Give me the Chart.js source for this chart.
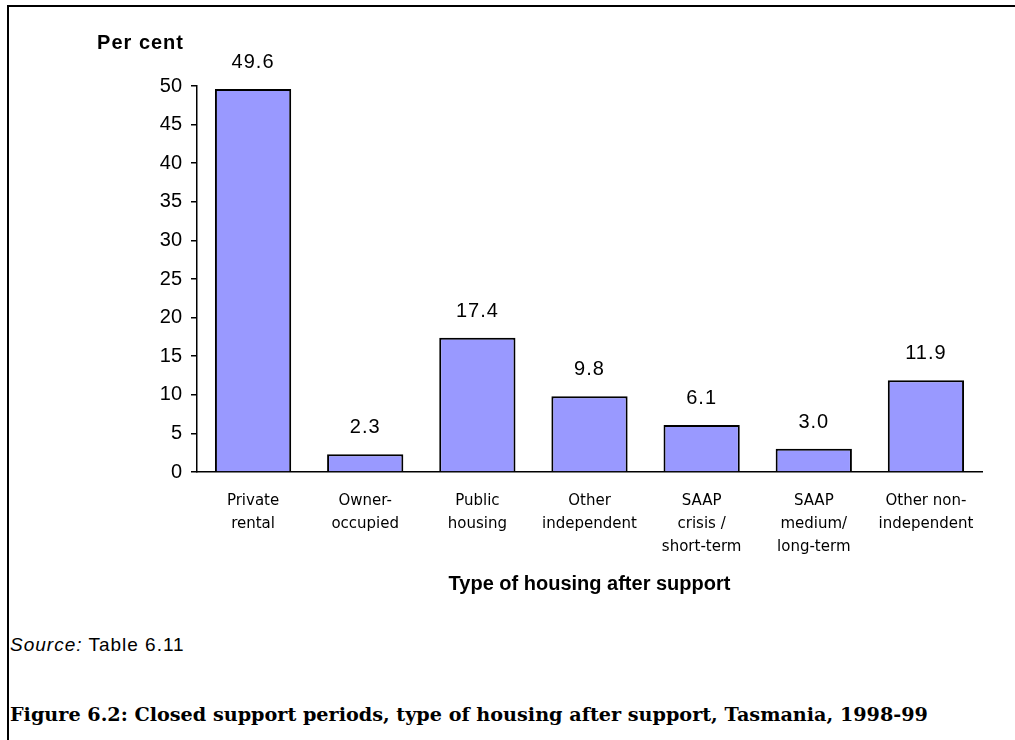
<!DOCTYPE html>
<html>
<head>
<meta charset="utf-8">
<script src="https://cdn.jsdelivr.net/npm/chart.js@4"></script>
<style>
  body { margin: 0; background: #fff; width: 1015px; height: 740px; overflow: hidden; position: relative; }
  #frame { position: absolute; left: 7px; top: 5px; right: -10px; bottom: -10px; border-left: 2px solid #000; border-top: 2px solid #000; }
  #wrap { position: absolute; left: 0; top: 0; width: 1015px; height: 610px; }
  #source { position: absolute; left: 10px; top: 634px; font: 19px "Liberation Sans", Arial, sans-serif; letter-spacing: 1px; color: #000; }
  #caption { position: absolute; left: 10px; top: 703px; font: bold 19.2px "DejaVu Serif", "Liberation Serif", serif; color: #000; white-space: nowrap; }
</style>
</head>
<body>
<div id="frame"></div>
<div id="wrap"><canvas id="housingChart"></canvas></div>
<div id="source"><i>Source:</i> Table 6.11</div>
<div id="caption">Figure 6.2: Closed support periods, type of housing after support, Tasmania, 1998-99</div>
<script>
const categories = [
  ['Private', 'rental'],
  ['Owner-', 'occupied'],
  ['Public', 'housing'],
  ['Other', 'independent'],
  ['SAAP', 'crisis /', 'short-term'],
  ['SAAP', 'medium/', 'long-term'],
  ['Other non-', 'independent']
];
const percents = [49.6, 2.3, 17.4, 9.8, 6.1, 3.0, 11.9];
const yMin = 0, yMax = 50, yStep = 5;
const yAxisTitle = 'Per cent';
const xAxisTitle = 'Type of housing after support';

// value labels above each bar
const barValues = {
  id: 'barValues',
  afterDatasetsDraw(chart) {
    const ctx = chart.ctx;
    const meta = chart.getDatasetMeta(0);
    ctx.save();
    ctx.font = '20px "Liberation Sans", Arial, sans-serif';
    ctx.letterSpacing = '1px';
    ctx.fillStyle = '#000';
    ctx.textAlign = 'center';
    ctx.textBaseline = 'alphabetic';
    meta.data.forEach((bar, i) => {
      ctx.fillText(percents[i].toFixed(1), bar.x, bar.y - 21);
    });
    ctx.restore();
  }
};

// "Per cent" sits above the y axis
const yTitle = {
  id: 'yTitle',
  afterDraw(chart) {
    const ctx = chart.ctx;
    const area = chart.chartArea;
    ctx.save();
    ctx.font = 'bold 20px "Liberation Sans", Arial, sans-serif';
    ctx.letterSpacing = '1px';
    ctx.fillStyle = '#000';
    ctx.textAlign = 'right';
    ctx.textBaseline = 'middle';
    ctx.fillText(yAxisTitle, area.left - 13, area.top - 43);
    ctx.restore();
  }
};

new Chart(document.getElementById('housingChart').getContext('2d'), {
  type: 'bar',
  data: {
    labels: categories,
    datasets: [{
      data: percents,
      backgroundColor: '#9999FF',
      borderColor: '#000',
      borderWidth: 2,
      barPercentage: 0.68,
      categoryPercentage: 1
    }]
  },
  options: {
    responsive: true,
    maintainAspectRatio: false,
    animation: false,
    layout: { padding: { left: 0, top: 86, right: 33, bottom: 0 } },
    plugins: {
      legend: { display: false },
      tooltip: { enabled: false }
    },
    scales: {
      x: {
        afterFit(scale) { scale.height = 138; },
        grid: { display: false, drawTicks: false },
        border: { display: true, color: '#000', width: 1.5 },
        ticks: {
          color: '#000',
          padding: 18,
          maxRotation: 0,
          autoSkip: false,
          font: { family: '"DejaVu Sans", sans-serif', size: 15, lineHeight: 1.53 }
        },
        title: {
          display: true,
          text: xAxisTitle,
          color: '#000',
          font: { family: '"Liberation Sans", Arial, sans-serif', size: 20, weight: 'bold', lineHeight: 1.2 },
          padding: { top: 0, bottom: 14 }
        }
      },
      y: {
        min: yMin,
        max: yMax,
        afterFit(scale) { scale.width = 197; },
        grid: { drawOnChartArea: false, drawTicks: true, tickLength: 6, color: '#000', lineWidth: 1.5 },
        border: { display: true, color: '#000', width: 1.5 },
        ticks: {
          stepSize: yStep,
          color: '#000',
          padding: 9,
          font: { family: '"Liberation Sans", Arial, sans-serif', size: 20 }
        }
      }
    }
  },
  plugins: [barValues, yTitle]
});
</script>
</body>
</html>
